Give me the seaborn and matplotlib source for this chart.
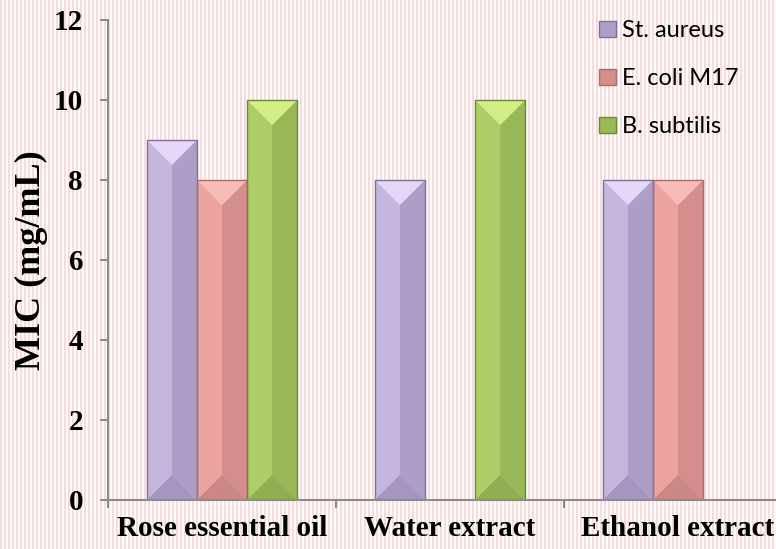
import numpy as np
import pandas as pd
import matplotlib
matplotlib.use('Agg')
import matplotlib.pyplot as plt
from matplotlib.patches import Polygon, Patch
import seaborn as sns

# data
extracts = ['Rose essential oil', 'Water extract', 'Ethanol extract']
strains = ['St. aureus', 'E. coli M17', 'B. subtilis']
st_aureus = [9, 8, 8]
e_coli = [8, np.nan, 8]
b_subtilis = [10, 10, np.nan]
y_ticks = [0, 2, 4, 6, 8, 10, 12]

# left face, right face, top bevel, bottom bevel, edge
shades = {
    'St. aureus': ('#c4b6dc', '#ad9ec7', '#e3d6f6', '#a596bf', '#7e6f9c'),
    'E. coli M17': ('#eda3a0', '#d48e8c', '#f8bcb8', '#cc8886', '#ad6d6b'),
    'B. subtilis': ('#adcd69', '#99b958', '#d3ee87', '#91af52', '#6b8a38'),
}

rows = []
for name, vals in zip(strains, [st_aureus, e_coli, b_subtilis]):
    for ext, v in zip(extracts, vals):
        rows.append({'extract': ext, 'strain': name, 'mic': v})
df = pd.DataFrame(rows).dropna()

W, H = 776, 549
fig = plt.figure(figsize=(W / 100, H / 100), dpi=100)

# striped backdrop
bg = fig.add_axes([0, 0, 1, 1], zorder=0)
cols = np.arange(W)
stripe = np.where(cols % 4 < 2, 0.0, 1.0)
pink = np.array([246, 221, 221]) / 255
white = np.array([255, 250, 250]) / 255
img = stripe[None, :, None] * white + (1 - stripe[None, :, None]) * pink
img = np.repeat(img, H, axis=0)
bg.imshow(img, aspect='auto', interpolation='nearest')
bg.axis('off')

ax = fig.add_axes([108 / W, 49 / H, 684 / W, 480 / H], zorder=1)
ax.patch.set_alpha(0)

palette = {k: v[0] for k, v in shades.items()}
sns.barplot(data=df, x='extract', y='mic', hue='strain', order=extracts,
            hue_order=strains, palette=palette, width=0.66, legend=False,
            saturation=1, edgecolor='none', linewidth=0, ax=ax)

ax.set_ylim(0, 12)
ax.set_xlim(-0.5, 2.5)
fig.canvas.draw()

# bevel shading on each bar
to_px = ax.transData
inv = ax.transData.inverted()
lookup = {v[0]: k for k, v in shades.items()}
for bar in list(ax.patches):
    h = bar.get_height()
    if not np.isfinite(h) or h <= 0:
        continue
    x0 = bar.get_x()
    x1 = x0 + bar.get_width()
    cx = (x0 + x1) / 2
    fc = matplotlib.colors.to_hex(bar.get_facecolor())
    left, right, top, bottom, edge = shades[lookup[fc]]
    half_px = (to_px.transform((x1, 0))[0] - to_px.transform((x0, 0))[0]) / 2
    d = inv.transform((0, to_px.transform((0, 0))[1] + half_px))[1]
    polys = [
        ([(cx, d), (x1, 0), (x1, h), (cx, h - d)], right),
        ([(x0, h), (x1, h), (cx, h - d)], top),
        ([(x0, 0), (x1, 0), (cx, d)], bottom),
    ]
    for pts, c in polys:
        ax.add_patch(Polygon(pts, closed=True, facecolor=c, edgecolor='none', zorder=2.1))
    ax.add_patch(Polygon([(x0, 0), (x0, h), (x1, h), (x1, 0)], closed=True,
                         facecolor='none', edgecolor=edge, linewidth=1.0, zorder=2.2))

sns.despine(ax=ax, right=True, top=True)
for side in ['left', 'bottom']:
    ax.spines[side].set_color('#8c8c8c')
    ax.spines[side].set_linewidth(1.5)
ax.spines['left'].set_bounds(0, 12)

ax.set_yticks(y_ticks)
ax.set_yticklabels([str(t) for t in y_ticks])
ax.set_xticks([-0.5, 0.5, 1.5, 2.5], minor=False)
ax.set_xticklabels([])
ax.set_xticks([0, 1, 2], minor=True)
ax.set_xticklabels(extracts, minor=True)
ax.tick_params(axis='x', which='major', direction='out', length=6, width=1.5,
               color='#8c8c8c')
ax.tick_params(axis='x', which='minor', length=0, pad=11)
ax.tick_params(axis='y', direction='out', length=6, width=1.5, color='#8c8c8c', pad=12)
for lab in ax.get_yticklabels() + ax.get_xticklabels(minor=True):
    lab.set_fontfamily('Liberation Serif')
    lab.set_fontweight('bold')
    lab.set_fontsize(21)
    lab.set_color('black')

ax.set_xlabel('')
ax.set_ylabel('MIC (mg/mL)', fontfamily='Liberation Serif', fontweight='bold',
              fontsize=26)
ax.yaxis.set_label_coords(-60 / 684, 0.5)

handles = [Patch(facecolor=shades[s][1], edgecolor=shades[s][4], label=s) for s in strains]
fig.legend(handles=handles, loc='upper left', bbox_to_anchor=(578 / W, 1 + 1 / H),
           frameon=False, prop={'family': 'Lato', 'size': 17},
           handlelength=0.7, handleheight=0.7, handletextpad=0.25,
           labelspacing=1.14)

fig.savefig('out.png', dpi=100)
